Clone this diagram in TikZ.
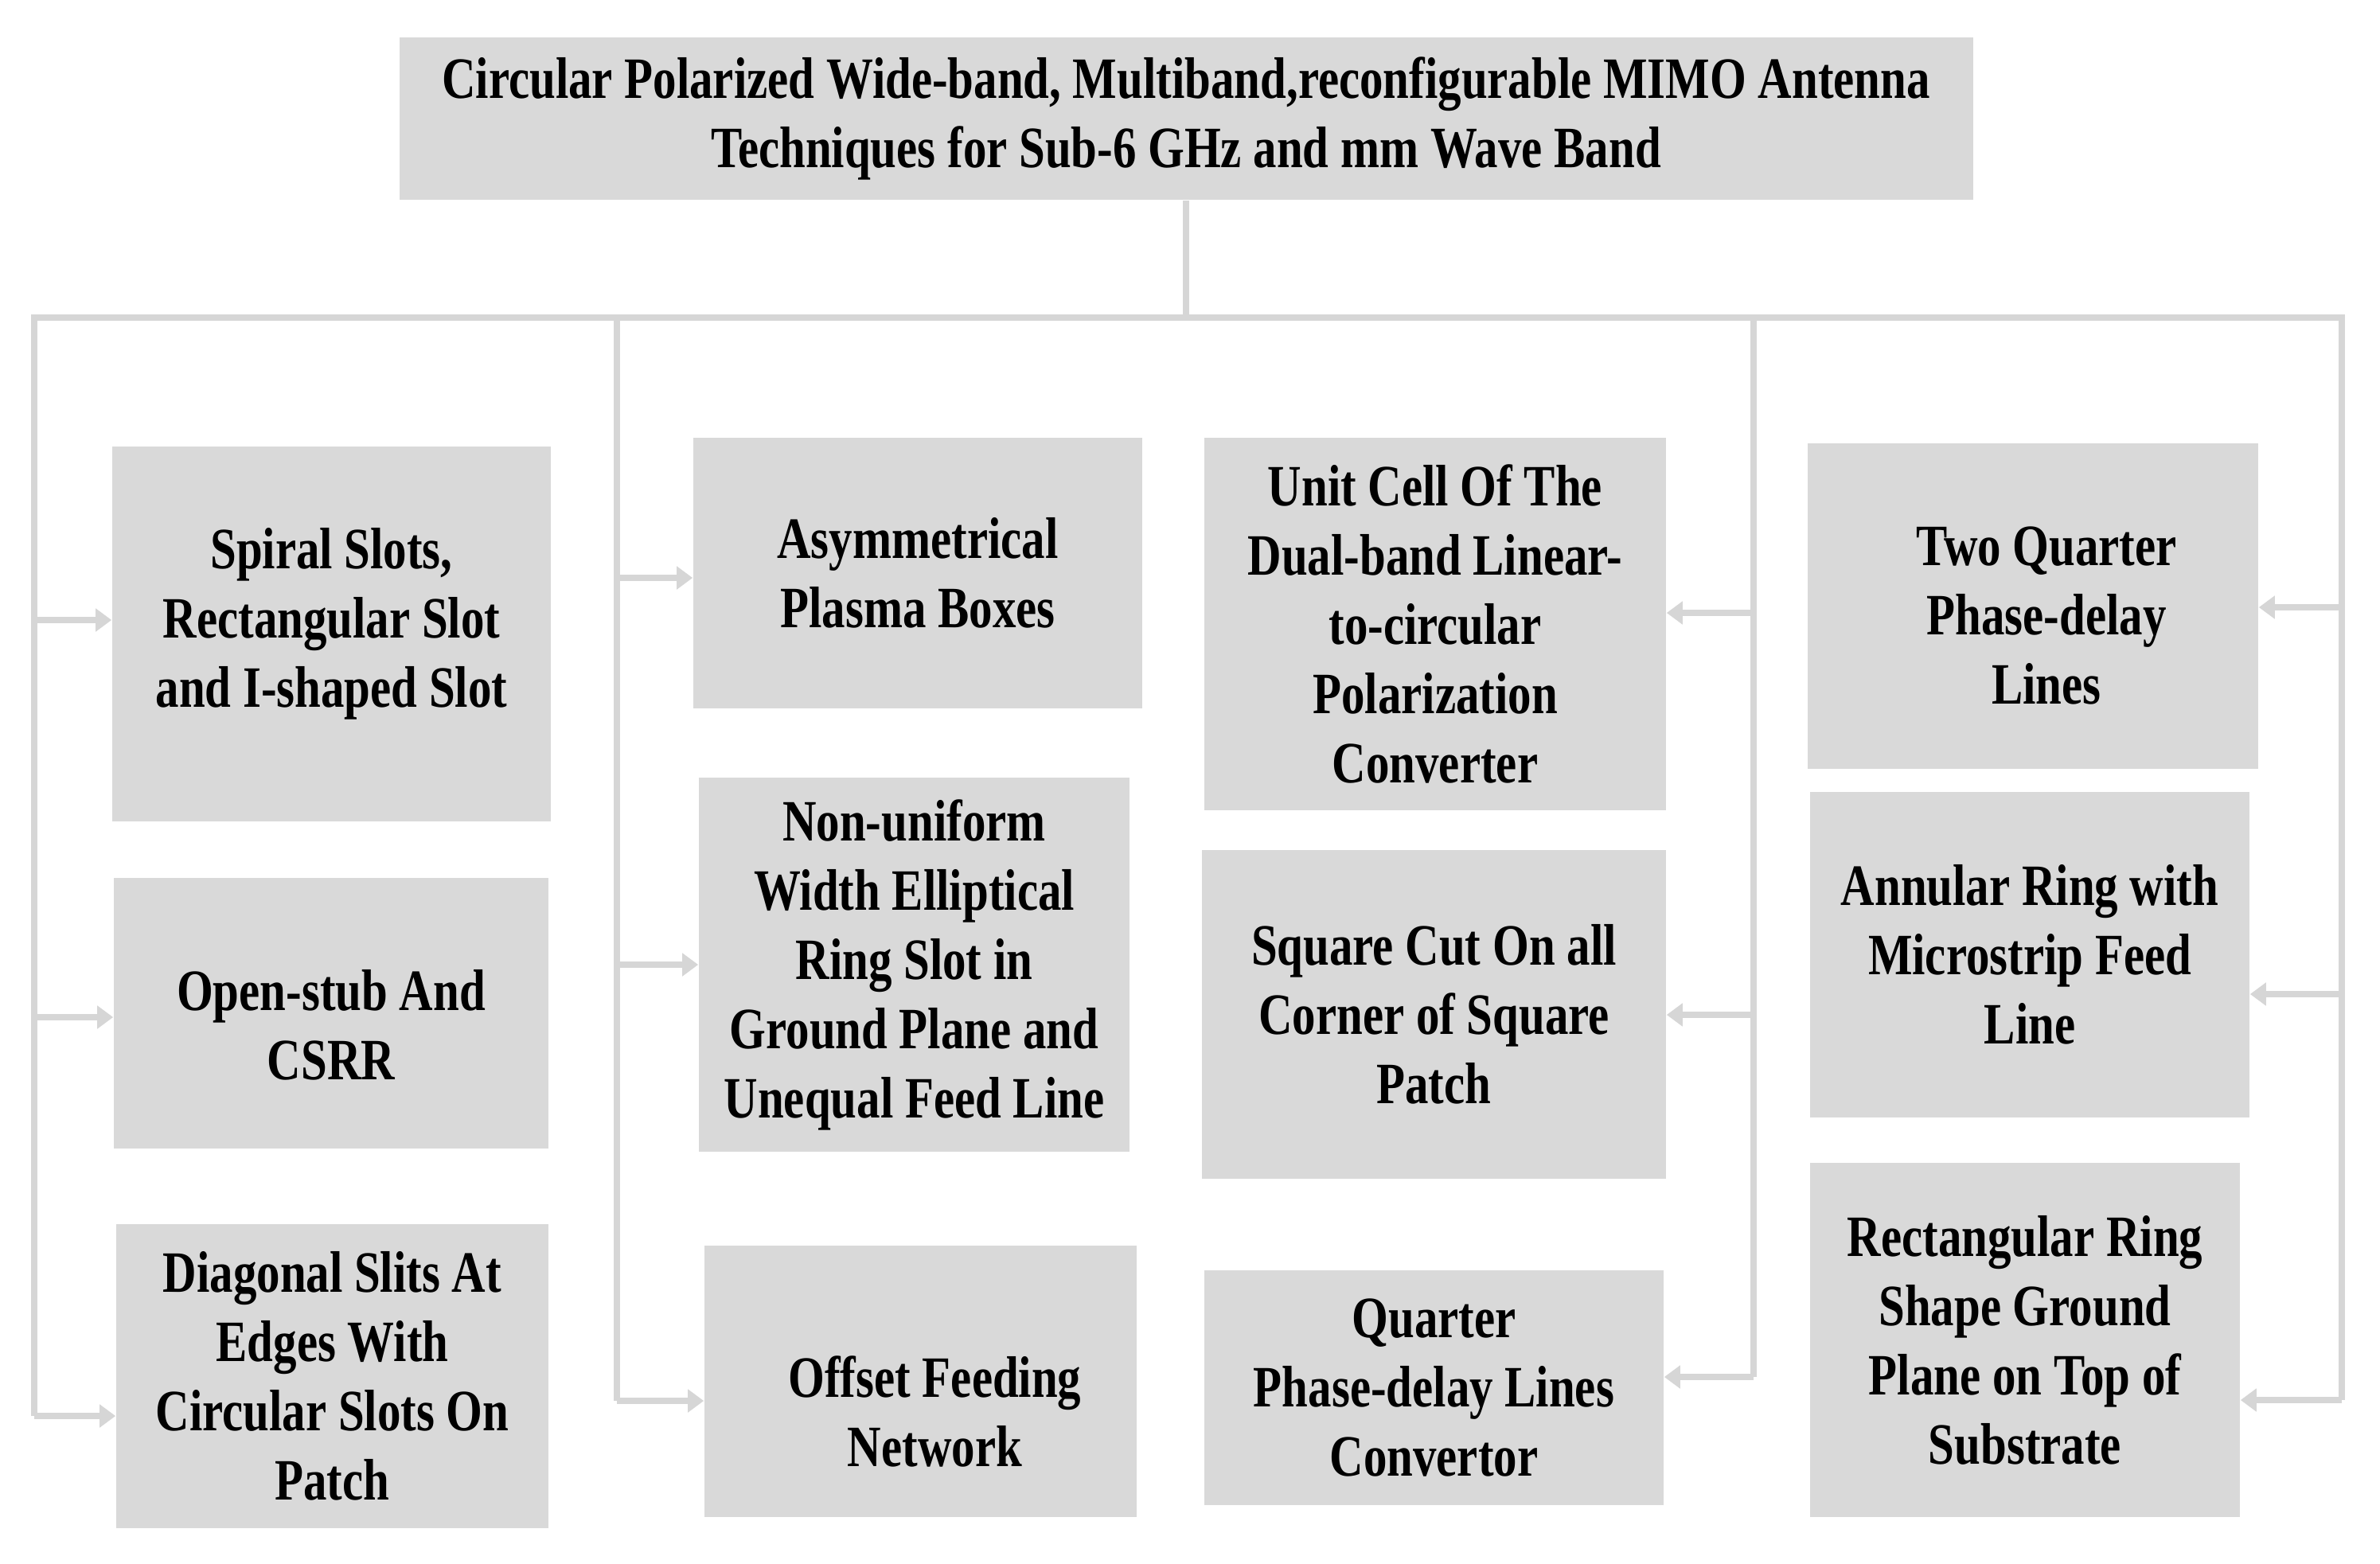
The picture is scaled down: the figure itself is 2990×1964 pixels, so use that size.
\documentclass[tikz,border=0pt]{standalone}
\usepackage{fontspec}
\setmainfont[FakeStretch=0.80]{Liberation Serif}
\usetikzlibrary{arrows.meta}
\definecolor{boxgray}{HTML}{D9D9D9}
\definecolor{linegray}{HTML}{D6D6D6}
\tikzset{
  txt/.style={align=center, inner sep=0pt, text=black,
    font=\bfseries\fontsize{18.4}{21.75}\selectfont},
  box/.style={txt, fill=boxgray},
  line/.style={draw=linegray, line width=2pt},
  arr/.style={line, -{Triangle[length=5pt,width=7pt]}}
}
\begin{document}
\begin{tikzpicture}[x=0.25pt,y=-0.25pt]
  \useasboundingbox (0,0) rectangle (2990,1964);
  \node[box, minimum width=494.25pt, minimum height=51pt] (title) at (1490,149)
    {Circular Polarized Wide-band, Multiband,reconfigurable MIMO Antenna\\Techniques for Sub-6 GHz and mm Wave Band};
  % left column
  \node[box, minimum width=137.75pt, minimum height=117.75pt,
    label={[txt, yshift=3.25pt]center:{Spiral Slots,\\Rectangular Slot\\and I-shaped Slot}}] (spiral) at (416.5,796.5) {};
  \node[box, minimum width=136.5pt, minimum height=85pt,
    label={[txt, yshift=-3.75pt]center:{Open-stub And\\CSRR}}] (stub) at (416,1273) {};
  \node[box, minimum width=135.75pt, minimum height=95.5pt] (slits) at (417.5,1729)
    {Diagonal Slits At\\Edges With\\Circular Slots On\\Patch};
  % second column
  \node[box, minimum width=141pt, minimum height=85pt] (plasma) at (1153,720)
    {Asymmetrical\\Plasma Boxes};
  \node[box, minimum width=135.25pt, minimum height=117.5pt] (ring) at (1148.5,1212)
    {Non-uniform\\Width Elliptical\\Ring Slot in\\Ground Plane and\\Unequal Feed Line};
  \node[box, minimum width=135.75pt, minimum height=85.25pt,
    label={[txt, xshift=4.5pt, yshift=-9.5pt]center:{Offset Feeding\\Network}}] (offset) at (1156.5,1735.5) {};
  % third column
  \node[box, minimum width=145pt, minimum height=117pt] (unit) at (1803,784)
    {Unit Cell Of The\\Dual-band Linear-\\to-circular\\Polarization\\Converter};
  \node[box, minimum width=145.75pt, minimum height=103.25pt] (square) at (1801.5,1274.5)
    {Square Cut On all\\Corner of Square\\Patch};
  \node[box, minimum width=144.25pt, minimum height=73.75pt] (quarter) at (1801.5,1743.5)
    {Quarter\\Phase-delay Lines\\Convertor};
  % right column
  \node[box, minimum width=141.5pt, minimum height=102.25pt,
    label={[txt, xshift=4.25pt, yshift=-3pt]center:{Two Quarter\\Phase-delay\\Lines}}] (twoq) at (2554,761.5) {};
  \node[box, minimum width=138pt, minimum height=102.25pt] (annular) at (2550,1199.5)
    {Annular Ring with\\Microstrip Feed\\Line};
  \node[box, minimum width=135pt, minimum height=111.25pt] (rect) at (2544,1683.5)
    {Rectangular Ring\\Shape Ground\\Plane on Top of\\Substrate};
  % bus
  \coordinate (b1) at (43,399);
  \coordinate (b2) at (775,399);
  \coordinate (b3) at (2203,399);
  \coordinate (b4) at (2942,399);
  \coordinate (t1) at (43,779);
  \coordinate (t2) at (43,1278);
  \coordinate (t3) at (43,1779);
  \coordinate (m1) at (775,726);
  \coordinate (m2) at (775,1212);
  \coordinate (m3) at (775,1760);
  \coordinate (n1) at (2203,770);
  \coordinate (n2) at (2203,1275);
  \coordinate (n3) at (2203,1730);
  \coordinate (r1) at (2942,763);
  \coordinate (r2) at (2942,1249);
  \coordinate (r3) at (2942,1759);
  \draw[line] (title.south) -- (title.south |- b1);
  \draw[line] (t3) -- (b1) -- (b4) -- (r3);
  \draw[line] (b2) -- (m3);
  \draw[line] (b3) -- (n3);
  \draw[arr] (t1) -- (t1 -| spiral.west);
  \draw[arr] (t2) -- (t2 -| stub.west);
  \draw[arr] (t3) -- (t3 -| slits.west);
  \draw[arr] (m1) -- (m1 -| plasma.west);
  \draw[arr] (m2) -- (m2 -| ring.west);
  \draw[arr] (m3) -- (m3 -| offset.west);
  \draw[arr] (n1) -- (n1 -| unit.east);
  \draw[arr] (n2) -- (n2 -| square.east);
  \draw[arr] (n3) -- (n3 -| quarter.east);
  \draw[arr] (r1) -- (r1 -| twoq.east);
  \draw[arr] (r2) -- (r2 -| annular.east);
  \draw[arr] (r3) -- (r3 -| rect.east);
\end{tikzpicture}
\end{document}
